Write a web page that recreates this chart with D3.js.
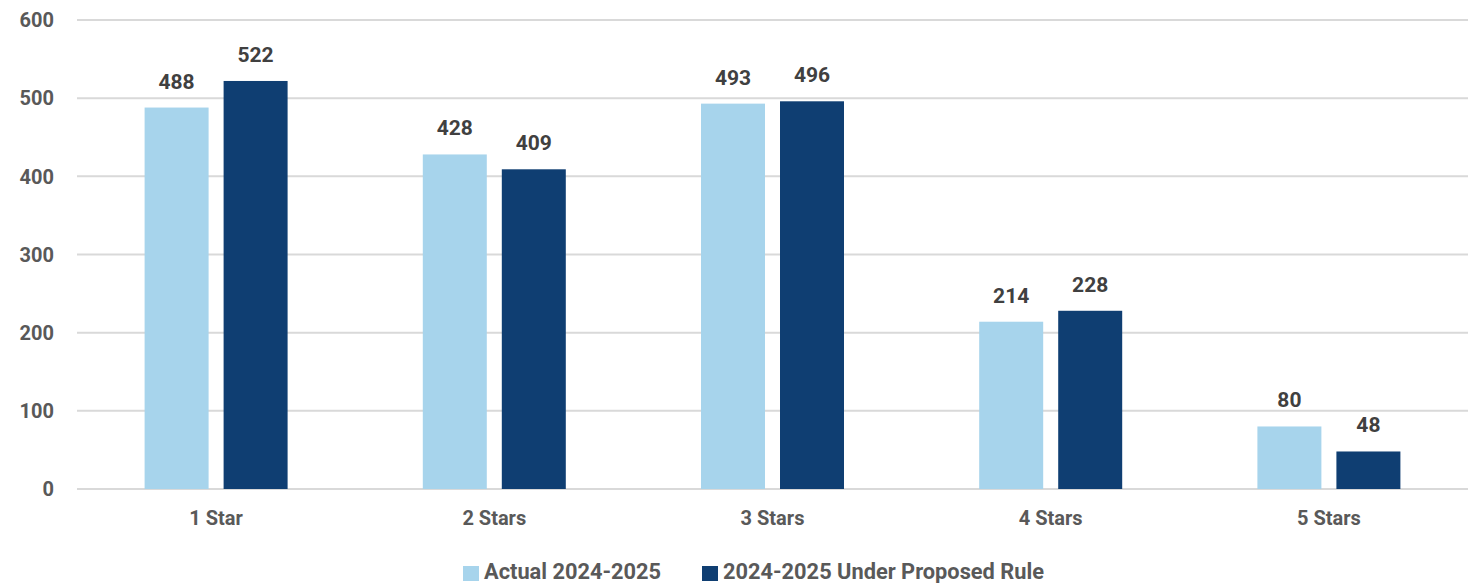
<!DOCTYPE html>
<html>
<head>
<meta charset="utf-8">
<script src="https://cdn.jsdelivr.net/npm/d3@7"></script>
<style>
  html, body { margin: 0; padding: 0; background: #fff; }
  svg text { font-family: Roboto, "Liberation Sans", sans-serif; font-weight: bold; }
</style>
</head>
<body>
<svg id="chart" width="1478" height="583"></svg>
<script>
const categories = ["1 Star", "2 Stars", "3 Stars", "4 Stars", "5 Stars"];
const seriesNames = ["Actual 2024-2025", "2024-2025 Under Proposed Rule"];
const actual = [488, 428, 493, 214, 80];
const proposed = [522, 409, 496, 228, 48];
const yTicks = [0, 100, 200, 300, 400, 500, 600];
const colors = ["#a7d4ec", "#0f3e72"];

const svg = d3.select("#chart");
const margin = { left: 77, right: 10, top: 20, bottom: 94 };
const W = 1478, H = 583;

const y = d3.scaleLinear().domain([0, 600]).range([H - margin.bottom, margin.top]);
const x0 = d3.scaleBand().domain(categories)
  .range([margin.left, W - margin.right])
  .paddingInner(0.486).paddingOuter(0.243);
const x1 = d3.scaleBand().domain([0, 1]).range([0, x0.bandwidth()]).paddingInner(0.19);

// gridlines
svg.append("g").selectAll("line").data(yTicks).join("line")
  .attr("x1", margin.left).attr("x2", W - margin.right)
  .attr("y1", d => y(d)).attr("y2", d => y(d))
  .attr("stroke", "#d9d9d9").attr("stroke-width", 2);

// y tick labels
svg.append("g").selectAll("text").data(yTicks).join("text")
  .attr("x", 54).attr("y", d => y(d)).attr("dy", "0.36em")
  .attr("text-anchor", "end").attr("font-size", 20).attr("fill", "#595959")
  .text(d => d);

const rows = categories.map((c, i) => ({ cat: c, vals: [actual[i], proposed[i]] }));

const groups = svg.append("g").selectAll("g").data(rows).join("g")
  .attr("transform", d => `translate(${x0(d.cat)},0)`);

groups.selectAll("rect").data(d => d.vals.map((v, k) => ({ v, k }))).join("rect")
  .attr("x", d => x1(d.k)).attr("width", x1.bandwidth())
  .attr("y", d => y(d.v)).attr("height", d => y(0) - y(d.v))
  .attr("fill", d => colors[d.k]);

groups.selectAll("text.val").data(d => d.vals.map((v, k) => ({ v, k }))).join("text")
  .attr("class", "val")
  .attr("x", d => x1(d.k) + x1.bandwidth() / 2).attr("y", d => y(d.v) - 19)
  .attr("text-anchor", "middle").attr("font-size", 21).attr("fill", "#404040")
  .text(d => d.v);

// category labels
svg.append("g").selectAll("text").data(categories).join("text")
  .attr("x", d => x0(d) + x0.bandwidth() / 2).attr("y", 525)
  .attr("text-anchor", "middle").attr("font-size", 20).attr("fill", "#595959")
  .text(d => d);

// legend
const legendItems = [{ x: 463, name: seriesNames[0], c: colors[0] }, { x: 702, name: seriesNames[1], c: colors[1] }];
const lg = svg.append("g").selectAll("g").data(legendItems).join("g")
  .attr("transform", d => `translate(${d.x},0)`);
lg.append("rect").attr("x", 0).attr("y", 566).attr("width", 16).attr("height", 15).attr("fill", d => d.c);
lg.append("text").attr("x", 21).attr("y", 579).attr("font-size", 21.8).attr("fill", "#595959").text(d => d.name);
</script>
</body>
</html>
